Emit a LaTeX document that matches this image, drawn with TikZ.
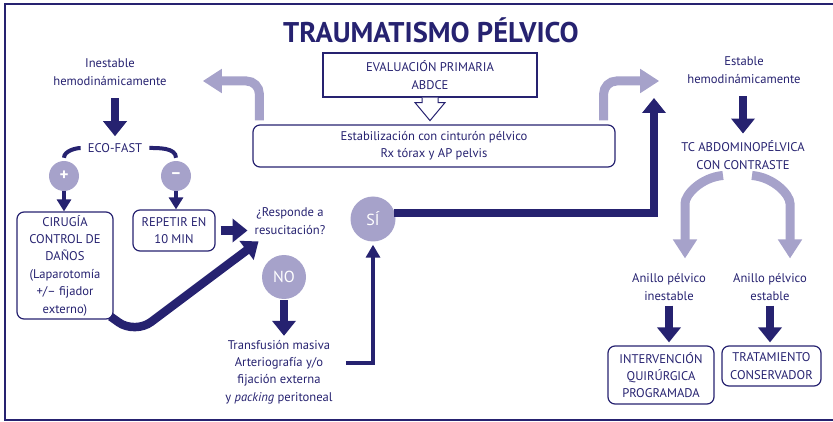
\documentclass[tikz,border=0pt]{standalone}
\usepackage{fontspec}
\setmainfont{PT Sans}
\usetikzlibrary{arrows.meta,calc}
\definecolor{navy}{RGB}{38,34,112}
\definecolor{lilac}{RGB}{166,162,202}

\begin{document}
\begin{tikzpicture}[x=1pt,y=-1pt,>=Stealth,
  every node/.style={font=\fontsize{12.6}{17.4}\selectfont,text=navy,
    align=center,inner sep=2pt},
  box/.style={draw=navy,line width=1.2pt,rounded corners=7pt},
  bubble/.style={circle,fill=lilac,text=white,minimum size=#1,inner sep=0pt},
  fatarrow/.style={navy,line width=8.5pt,-{Triangle[length=15pt,width=23pt]}},
  thinarrow/.style={navy,line width=4pt,-{Triangle[length=12pt,width=14pt]}},
  softarrow/.style={lilac,line width=9pt,rounded corners=13pt,
    -{Triangle[length=19pt,width=23pt]}}]
  \useasboundingbox (0,0) rectangle (833,422);
  \draw[navy,line width=2pt] (5,4) rectangle (850,420);

  \node[font=\fontsize{28.5}{30}\selectfont\bfseries] (title) at (431,30)
    {TRAUMATISMO PÉLVICO};

  % centre column
  \node[draw=navy,line width=1.2pt,minimum width=214pt,minimum height=44pt]
    (eval) at (430,75) {EVALUACIÓN PRIMARIA\\ABDCE};
  \node[box,minimum width=362pt,minimum height=42pt] (estab) at (434,146)
    {Estabilización con cinturón pélvico\\Rx tórax y AP pelvis};
  \draw[navy,line width=1pt,fill=white]
    ($(eval.south)+(-8,0)$) -- ++(0,5) -- ++(-7,0) -- ($(eval.south)+(0,23)$)
    -- ($(eval.south)+(15,5)$) -- ++(-7,0) -- ++(0,-5);

  % unstable branch
  \node (inest) at (110,72) {Inestable\\hemodinámicamente};
  \node (ecofast) at (115,148) {ECO-FAST};
  \node[bubble=30pt,font=\fontsize{17}{17}\selectfont\bfseries] (plus)
    at (64,176) {+};
  \node[bubble=30pt,font=\fontsize{17}{17}\selectfont\bfseries] (minus)
    at (176,176) {–};
  \node[box,minimum width=96pt,minimum height=107pt] (cirugia) at (65,265.5)
    {CIRUGÍA\\CONTROL DE\\DAÑOS\\(Laparotomía\\+/– fijador\\externo)};
  \node[box,minimum width=82pt,minimum height=41pt] (repetir) at (174,230.5)
    {REPETIR EN\\10 MIN};
  \node (responde) at (290,221) {¿Responde a\\resucitación?};
  \node[bubble=44pt,font=\fontsize{16}{16}\selectfont] (no) at (284,277) {NO};
  \node (transf) at (279,372)
    {Transfusión masiva\\Arteriografía y/o\\fijación externa\\y \textit{packing} peritoneal};
  \node[bubble=45pt,font=\fontsize{16}{16}\selectfont] (si) at (373,219) {SÍ};

  % stable branch
  \node (estable) at (744,70) {Estable\\hemodinámicamente};
  \node (tc) at (743,155) {TC ABDOMINOPÉLVICA\\CON CONTRASTE};
  \node (anilloI) at (669,287) {Anillo pélvico\\inestable};
  \node (anilloE) at (770,287) {Anillo pélvico\\estable};
  \node[box,minimum width=106pt,minimum height=58pt] (interv) at (661,375)
    {INTERVENCIÓN\\QUIRÚRGICA\\PROGRAMADA};
  \node[box,minimum width=99pt,minimum height=40pt] (trat) at (771.5,366)
    {TRATAMIENTO\\CONSERVADOR};

  \coordinate (dip) at (135,334);
  \coordinate (rise) at (654,98);

  \draw[softarrow] ($(estab.north west)+(7,-4)$) |- ($(inest.east)+(34,9)$);
  \draw[softarrow] ($(estab.north east)+(-12,-4)$) |- ($(estable.west)+(-26,11)$);

  \draw[fatarrow,shorten <=11pt,shorten >=5pt] (inest.south -| ecofast) -- (ecofast);
  \draw[navy,line width=4pt,shorten <=5pt,shorten >=3pt]
    (ecofast.west) to[out=180,in=90] (plus.north);
  \draw[navy,line width=4pt,shorten <=5pt,shorten >=3pt]
    (ecofast.east) to[out=0,in=90] (minus.north);
  \draw[thinarrow] (plus.south) -- (plus.south |- cirugia.north);
  \draw[thinarrow] (minus.south) -- (minus.south |- repetir.north);
  \draw[fatarrow,shorten <=5pt,shorten >=5pt] (repetir.east) -- (repetir.east -| responde.west);
  \draw[fatarrow,rounded corners=20pt]
    ($(cirugia.south east)+(-3,-3)$) -- (dip) -- ($(responde.south west)+(6,5)$);
  \draw[fatarrow,shorten <=1pt,shorten >=2pt] (no) -- (no |- transf.north);
  \draw[navy,line width=4pt,-{Triangle[length=13pt,width=14pt]},shorten >=3pt]
    ($(transf.east)+(11,-9)$) -| (si);
  \draw[fatarrow] ($(si.east)+(-2,-6)$) -| (rise);

  \draw[fatarrow,shorten <=11pt,shorten >=5pt] (estable.south -| tc) -- (tc);
  \draw[softarrow] ($(tc.south)+(-20,4)$) to[out=185,in=90]
    ($(anilloI.north)+(16,-55)$) -- ($(anilloI.north)+(16,-13)$);
  \draw[softarrow] ($(tc.south)+(9,4)$) to[out=-5,in=90]
    ($(anilloE.north)+(20,-55)$) -- ($(anilloE.north)+(20,-13)$);
  \draw[fatarrow,shorten <=3pt,shorten >=3pt] (anilloI.south) -- (anilloI.south |- interv.north);
  \draw[fatarrow,shorten <=3pt,shorten >=3pt] (anilloE.south) -- (anilloE.south |- trat.north);
\end{tikzpicture}
\end{document}
